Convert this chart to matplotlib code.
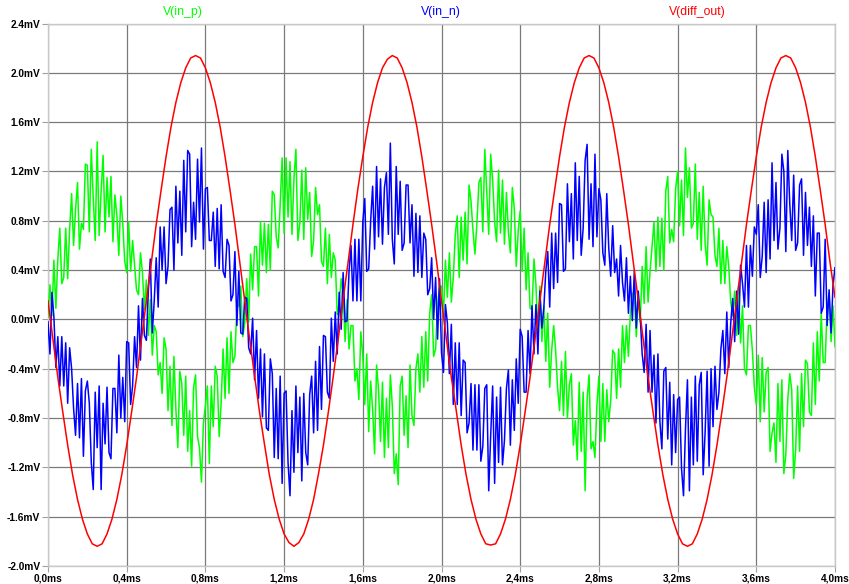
import numpy as np
import matplotlib
matplotlib.use("Agg")
import matplotlib.pyplot as plt
from matplotlib.ticker import FuncFormatter

# ---------------- data ----------------
t_start, t_stop = 0.0, 4.0          # ms
series_names = ["V(in_p)", "V(in_n)", "V(diff_out)"]
series_colors = ["#00ff00", "#0000ff", "#ff0000"]

# V(in_p) sampled every 0.01 ms (mV)
v_in_p = [
    0.02, 0.28, 0.03, 0.48, 0.09, 0.49, 0.74, 0.29, 0.34, 0.74,
    0.33, 0.73, 1.02, 0.60, 0.89, 1.11, 0.57, 0.78, 0.73, 1.26,
    1.25, 0.71, 1.38, 0.98, 0.64, 1.44, 0.68, 1.04, 1.33, 0.71,
    1.15, 0.83, 1.16, 0.63, 1.01, 0.84, 0.52, 1.00, 0.78, 0.47,
    0.38, 0.79, 0.39, 0.64, 0.44, 0.24, 0.20, 0.54, 0.38, 0.08,
    0.32, -0.13, 0.16, -0.29, -0.05, -0.10, -0.45, -0.35, -0.60, -0.15,
    -0.24, -0.74, -0.38, -0.86, -0.30, -0.73, -1.04, -0.42, -0.52, -0.94,
    -0.46, -1.07, -0.74, -1.19, -0.55, -0.45, -0.95, -1.04, -1.32, -0.84,
    -0.70, -0.54, -1.17, -0.54, -0.87, -0.38, -0.46, -0.95, -0.68, -0.24,
    -0.64, -0.15, -0.60, -0.10, -0.35, -0.30, 0.10, 0.11, 0.27, -0.14,
    -0.03, 0.33, -0.02, 0.53, 0.24, 0.59, 0.59, 0.19, 0.79, 0.44,
    0.78, 0.38, 0.77, 0.40, 1.04, 1.01, 0.67, 0.58, 0.93, 1.31,
    0.70, 1.31, 0.83, 1.28, 0.69, 1.14, 1.38, 0.64, 0.78, 1.21,
    0.65, 1.23, 0.81, 1.03, 0.51, 0.64, 1.07, 0.85, 0.93, 0.47,
    0.43, 0.74, 0.29, 0.69, 0.34, 0.54, 0.48, 0.04, 0.13, 0.33,
    0.22, -0.18, 0.16, -0.24, -0.05, -0.05, -0.50, -0.40, -0.65, -0.10,
    -0.29, -0.69, -0.28, -0.91, -0.50, -0.73, -1.09, -0.37, -0.57, -0.99,
    -0.51, -1.12, -0.64, -1.04, -0.45, -0.70, -1.25, -1.09, -1.34, -0.54,
    -0.46, -0.94, -0.62, -1.04, -0.37, -0.78, -0.86, -0.40, -0.28, -0.59,
    -0.14, -0.55, -0.10, -0.50, 0.05, 0.20, -0.30, -0.24, 0.12, 0.26,
    0.27, 0.03, 0.48, 0.18, 0.54, 0.14, 0.34, 0.69, 0.84, 0.34,
    0.83, 0.48, 0.87, 0.45, 1.09, 0.96, 0.72, 0.53, 0.78, 1.11,
    1.15, 0.71, 1.38, 1.03, 0.69, 1.34, 1.13, 0.79, 0.63, 1.21,
    0.70, 1.13, 0.61, 1.03, 0.71, 0.54, 1.07, 0.90, 0.43, 0.72,
    0.88, 0.39, 0.74, 0.24, 0.54, 0.09, 0.08, 0.49, 0.28, -0.12,
    0.27, -0.18, 0.11, -0.34, 0.05, -0.55, -0.25, -0.05, -0.25, -0.55,
    -0.74, -0.34, -0.78, -0.26, -0.80, -0.53, -0.44, -1.02, -0.82, -1.14,
    -0.51, -1.07, -0.59, -1.39, -0.65, -0.45, -1.05, -0.99, -1.12, -0.69,
    -0.46, -0.99, -0.52, -0.99, -0.57, -0.83, -0.66, -0.25, -0.28, -0.64,
    -0.24, -0.55, -0.05, -0.35, -0.05, -0.30, 0.05, 0.21, 0.22, -0.14,
    0.17, -0.02, 0.43, 0.13, 0.59, 0.14, 0.39, 0.59, 0.79, 0.39,
    0.83, 0.43, 0.82, 0.40, 1.04, 1.16, 0.62, 0.73, 0.63, 1.06,
    1.20, 0.76, 1.13, 0.68, 1.39, 0.99, 1.23, 0.74, 0.78, 1.26,
    0.65, 1.03, 0.56, 1.08, 0.61, 0.44, 0.97, 0.85, 0.83, 0.52,
    0.43, 0.74, 0.29, 0.64, 0.29, 0.59, 0.43, 0.14, 0.03, 0.23,
    -0.13, 0.27, -0.19, 0.11, -0.40, -0.45, -0.05, -0.05, -0.25, -0.55,
    -0.69, -0.29, -0.83, -0.31, -0.75, -0.43, -0.39, -1.07, -0.92, -0.84,
    -1.16, -0.52, -0.99, -0.49, -1.25, -1.10, -0.65, -0.44, -0.57, -1.29,
    -1.06, -0.54, -1.07, -0.44, -0.87, -0.33, -0.36, -0.75, -0.78, -0.19,
    -0.69, -0.10, -0.50, 0.05, -0.35, -0.35, 0.10, 0.21, -0.18, 0.11,
    -0.22,
]

# V(in_n) sampled every 0.01 ms (mV)
v_in_n = [
    -0.02, -0.28, 0.22, 0.02, -0.39, -0.14, -0.54, -0.14, -0.54, -0.19,
    -0.68, -0.23, -0.40, -0.72, -0.94, -0.52, -0.96, -0.48, -1.11, -0.58,
    -0.50, -0.68, -1.16, -1.38, -0.59, -1.04, -0.54, -1.38, -0.68, -1.01,
    -0.55, -1.08, -1.13, -0.56, -0.56, -0.92, -0.29, -0.80, -0.47, -0.83,
    -0.18, -0.19, -0.69, -0.54, -0.14, -0.39, 0.11, -0.33, 0.17, -0.13,
    -0.17, 0.23, 0.49, -0.11, 0.15, 0.50, 0.10, 0.75, 0.40, 0.75,
    0.29, 0.43, 0.89, 0.91, 0.40, 1.08, 0.62, 1.04, 0.52, 1.29,
    0.71, 1.37, 1.34, 0.59, 0.95, 0.65, 1.30, 0.79, 1.39, 0.57,
    1.06, 1.07, 0.64, 0.64, 0.87, 0.43, 0.90, 0.41, 0.93, 0.39,
    0.34, 0.65, 0.60, 0.15, 0.20, 0.55, -0.05, 0.39, -0.11, -0.12,
    0.18, 0.17, -0.23, -0.28, 0.01, -0.49, -0.09, -0.64, -0.24, -0.79,
    -0.28, -0.88, -0.90, -0.32, -0.44, -1.12, -0.56, -1.13, -0.46, -1.33,
    -0.60, -0.58, -1.16, -1.43, -0.74, -1.24, -0.54, -1.08, -0.63, -1.31,
    -0.60, -1.08, -1.18, -0.61, -0.46, -0.92, -0.34, -0.90, -0.22, -0.73,
    -0.13, -0.14, -0.59, -0.64, 0.01, -0.34, 0.06, -0.28, 0.22, -0.08,
    0.38, -0.02, -0.01, 0.39, 0.60, 0.15, 0.65, 0.15, 0.65, 0.15,
    0.79, 0.98, 0.39, 0.41, 0.80, 1.08, 0.57, 1.24, 0.67, 1.14,
    0.61, 1.07, 1.19, 0.69, 1.43, 0.65, 0.45, 1.24, 0.69, 1.12,
    0.56, 0.62, 1.09, 1.09, 0.62, 0.93, 0.35, 0.86, 0.38, 0.84,
    0.34, 0.70, 0.65, 0.20, 0.25, 0.50, 0.00, 0.34, -0.16, 0.33,
    -0.27, -0.43, 0.12, -0.03, -0.44, -0.04, -0.69, -0.19, -0.69, -0.19,
    -0.78, -0.33, -0.35, -0.92, -0.84, -0.52, -1.06, -0.53, -1.06, -0.53,
    -1.15, -1.03, -0.56, -0.53, -1.39, -0.94, -0.54, -1.33, -0.63, -1.16,
    -0.55, -1.18, -0.98, -0.56, -0.41, -1.02, -0.49, -0.90, -0.32, -0.68,
    -0.08, -0.14, -0.59, -0.59, -0.09, -0.44, 0.11, -0.28, 0.12, -0.28,
    0.23, -0.07, 0.09, 0.39, 0.55, 0.10, 0.70, 0.25, 0.70, 0.30,
    0.94, 0.93, 0.39, 0.41, 1.10, 0.63, 1.02, 0.49, 1.27, 0.64,
    1.16, 0.52, 0.74, 1.29, 1.42, 0.65, 1.10, 0.59, 1.34, 0.67,
    1.06, 0.97, 0.54, 0.44, 1.02, 0.58, 0.35, 0.76, 0.38, 0.49,
    0.19, 0.60, 0.30, 0.15, 0.50, 0.05, 0.35, -0.01, 0.39, -0.07,
    0.23, 0.02, -0.28, -0.43, -0.04, -0.59, -0.09, -0.59, -0.29, -0.84,
    -0.28, -0.83, -1.05, -0.42, -0.39, -0.97, -0.51, -1.18, -0.61, -1.08,
    -0.65, -0.63, -1.21, -1.43, -0.89, -0.49, -1.39, -0.63, -1.18, -0.46,
    -1.15, -0.53, -0.43, -1.26, -0.91, -0.42, -1.19, -0.40, -0.87, -0.38,
    -0.73, -0.59, -0.24, -0.09, -0.44, 0.06, -0.39, -0.03, 0.17, -0.18,
    0.23, -0.12, 0.44, 0.29, 0.10, 0.60, 0.10, 0.60, 0.35, 0.75,
    0.69, 0.93, 0.34, 0.51, 0.95, 0.38, 0.97, 0.49, 1.27, 0.64,
    1.11, 0.57, 0.74, 1.34, 1.20, 0.55, 1.37, 0.94, 0.64, 1.17,
    0.56, 0.62, 1.09, 1.14, 0.52, 1.03, 0.60, 0.91, 0.43, 0.84,
    0.19, 0.70, 0.70, 0.05, 0.10, 0.65, -0.05, 0.24, -0.11, 0.28,
    0.42,
]

# V(diff_out) sampled every 0.025 ms (mV)
v_diff_out = [
    0.15, -0.16, -0.47, -0.75, -1.02, -1.26, -1.46, -1.62, -1.74, -1.82,
    -1.84, -1.82, -1.74, -1.62, -1.46, -1.26, -1.02, -0.75, -0.47, -0.16,
    0.15, 0.46, 0.77, 1.05, 1.32, 1.56, 1.76, 1.92, 2.04, 2.12,
    2.14, 2.12, 2.04, 1.92, 1.76, 1.56, 1.32, 1.05, 0.77, 0.46,
    0.15, -0.16, -0.46, -0.75, -1.01, -1.26, -1.46, -1.62, -1.74, -1.81,
    -1.84, -1.81, -1.74, -1.62, -1.46, -1.25, -1.02, -0.75, -0.46, -0.16,
    0.16, 0.46, 0.77, 1.06, 1.32, 1.56, 1.76, 1.92, 2.04, 2.11,
    2.14, 2.12, 2.04, 1.92, 1.76, 1.56, 1.32, 1.05, 0.77, 0.47,
    0.15, -0.16, -0.47, -0.74, -1.02, -1.26, -1.46, -1.62, -1.74, -1.82,
    -1.83, -1.82, -1.74, -1.62, -1.46, -1.26, -1.02, -0.75, -0.47, -0.16,
    0.15, 0.46, 0.77, 1.05, 1.32, 1.56, 1.76, 1.92, 2.04, 2.12,
    2.14, 2.12, 2.04, 1.92, 1.76, 1.56, 1.32, 1.05, 0.77, 0.46,
    0.16, -0.16, -0.47, -0.75, -1.02, -1.26, -1.46, -1.62, -1.74, -1.82,
    -1.84, -1.82, -1.74, -1.62, -1.46, -1.26, -1.02, -0.75, -0.47, -0.16,
    0.15, 0.46, 0.77, 1.05, 1.32, 1.56, 1.76, 1.92, 2.04, 2.12,
    2.14, 2.12, 2.04, 1.92, 1.76, 1.56, 1.32, 1.05, 0.77, 0.46,
    0.18,
]

x_ticks_ms = [0.0, 0.4, 0.8, 1.2, 1.6, 2.0, 2.4, 2.8, 3.2, 3.6, 4.0]
y_ticks_mv = [-2.0, -1.6, -1.2, -0.8, -0.4, 0.0, 0.4, 0.8, 1.2, 1.6, 2.0, 2.4]

# ---------------- figure ----------------
W, H = 849, 584
fig = plt.figure(figsize=(W / 100, H / 100), dpi=100)
ax = fig.add_axes([48 / W, 1 - 566 / H, (835 - 48) / W, (566 - 23.5) / H])

t_fast = np.linspace(t_start, t_stop, len(v_in_p))
t_slow = np.linspace(t_start, t_stop, len(v_diff_out))

ax.plot(t_fast, v_in_p, color=series_colors[0], lw=1.1, zorder=3)
ax.plot(t_fast, v_in_n, color=series_colors[1], lw=1.1, zorder=4)
ax.plot(t_slow, v_diff_out, color=series_colors[2], lw=1.1, zorder=5)

ax.set_xlim(x_ticks_ms[0], x_ticks_ms[-1])
ax.set_ylim(y_ticks_mv[0], y_ticks_mv[-1])
ax.set_xticks(x_ticks_ms)
ax.set_yticks(y_ticks_mv)

ax.xaxis.set_major_formatter(FuncFormatter(lambda v, p: f"{v:.1f}".replace(".", ",") + "ms"))
ax.yaxis.set_major_formatter(FuncFormatter(lambda v, p: f"{v:.1f}mV"))
for lab in ax.get_xticklabels() + ax.get_yticklabels():
    lab.set_fontfamily("Liberation Sans")
    lab.set_fontweight("bold")
    lab.set_fontsize(7.3)

ax.grid(True, color="#7a7a7a", lw=0.9, zorder=1)
ax.set_axisbelow(True)
ax.tick_params(direction="out", length=4, width=0.8, color="#a0a0a0", pad=1.5)
for s in ax.spines.values():
    s.set_color("#c8c8c8")
    s.set_linewidth(1.0)

label_x = [183, 441, 697]
for name, col, xp in zip(series_names, series_colors, label_x):
    fig.text(xp / W, 1 - 12 / H, name, color=col, ha="center", va="center",
             family="Liberation Sans", size=8.8)

fig.savefig("out.png", dpi=100, facecolor="white")
